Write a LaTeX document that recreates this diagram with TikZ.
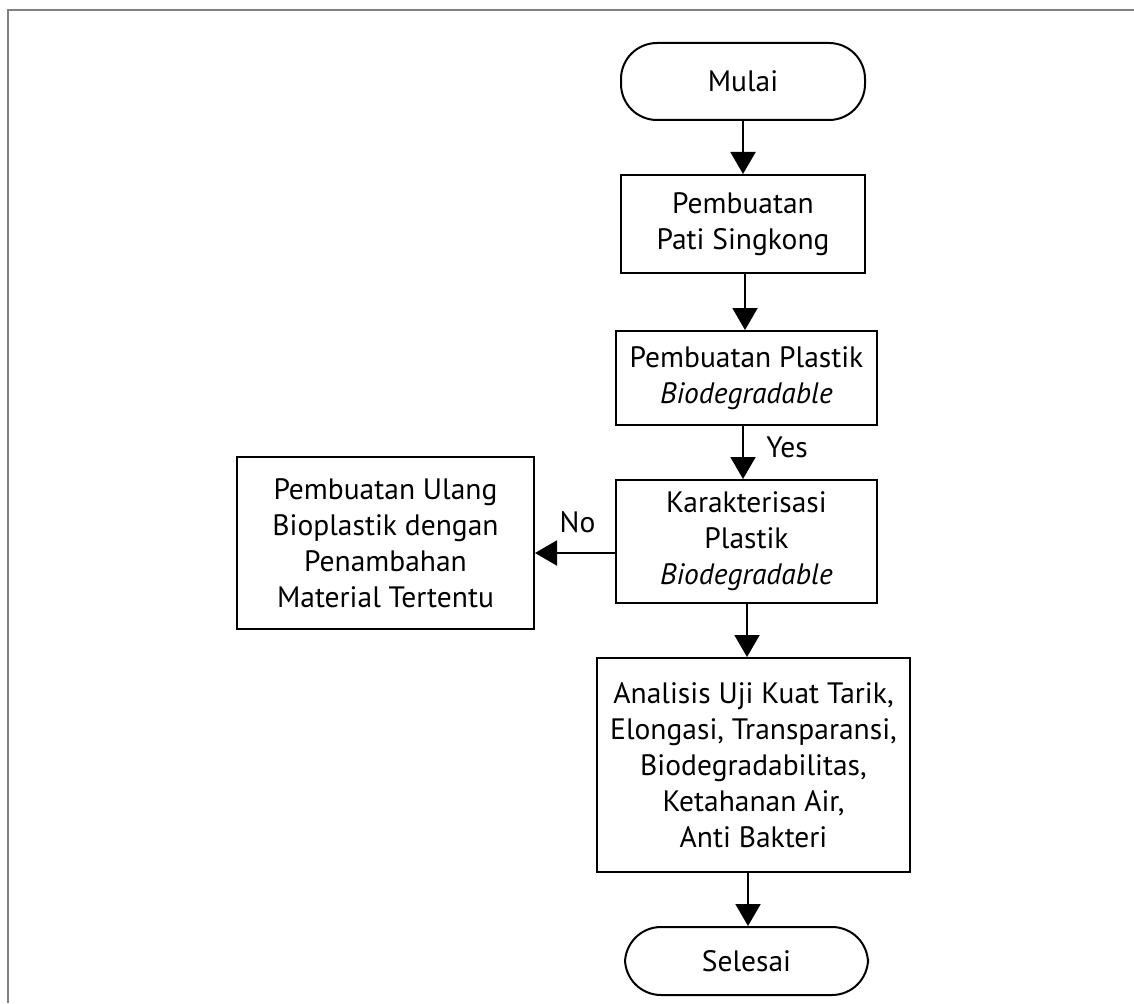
\documentclass[tikz,border=0pt]{standalone}
\usepackage{fontspec}
\setmainfont{PT Sans}
\usetikzlibrary{arrows.meta,calc}
\definecolor{framegray}{HTML}{808080}
\begin{document}
\begin{tikzpicture}[x=1pt,y=-1pt,
  box/.style={draw,line width=2pt,fill=white,align=center,inner sep=0pt,font=\fontsize{29.5}{36}\selectfont},
  term/.style={box,rounded corners=36pt},
  arr/.style={line width=2pt,-{Triangle[width=25pt,length=22pt]}},
  lbl/.style={font=\fontsize{29.5}{36}\selectfont,inner sep=0pt,anchor=base}]
\useasboundingbox (0,0) rectangle (1134,1003);
\draw[framegray,line width=2pt] (1134,10) -- (7.5,10) -- (7.5,1003);

\node[term,minimum width=244pt,minimum height=77pt] (start) at (743,81.5) {Mulai};
\node[box,minimum width=244pt,minimum height=98pt] (pati) at (743,224) {Pembuatan\\Pati Singkong};
\node[box,minimum width=261pt,minimum height=94pt] (plastik) at (746.5,378) {Pembuatan Plastik\\\textit{Biodegradable}};
\node[box,minimum width=261pt,minimum height=123pt] (karak) at (746.5,541.5) {Karakterisasi\\Plastik\\\textit{Biodegradable}};
\node[box,minimum width=297pt,minimum height=172pt] (ulang) at (385.5,543) {Pembuatan Ulang\\Bioplastik dengan\\Penambahan\\Material Tertentu};
\node[box,minimum width=313pt,minimum height=214pt] (analisis) at (753.5,765) {Analisis Uji Kuat Tarik,\\Elongasi, Transparansi,\\Biodegradabilitas,\\Ketahanan Air,\\Anti Bakteri};
\node[term,minimum width=243pt,minimum height=68pt] (end) at (746.5,961) {Selesai};

\coordinate (c1) at (743,0);
\coordinate (c2) at (745,0);
\coordinate (c3) at (743,0);
\coordinate (c4) at (747,0);
\coordinate (c5) at (748,0);
\coordinate (cn) at (0,553);

\draw[arr] (start.south -| c1) -- (pati.north -| c1);
\draw[arr] (pati.south -| c2) -- (plastik.north -| c2);
\draw[arr] (plastik.south -| c3) -- (karak.north -| c3);
\draw[arr] (karak.south -| c4) -- (analisis.north -| c4);
\draw[arr] (analisis.south -| c5) -- (end.north -| c5);
\draw[arr] (karak.west |- cn) -- (ulang.east |- cn);

\node[lbl] (yes) at (787,457) {Yes};
\node[lbl] (no) at (577.5,532) {No};
\end{tikzpicture}
\end{document}
